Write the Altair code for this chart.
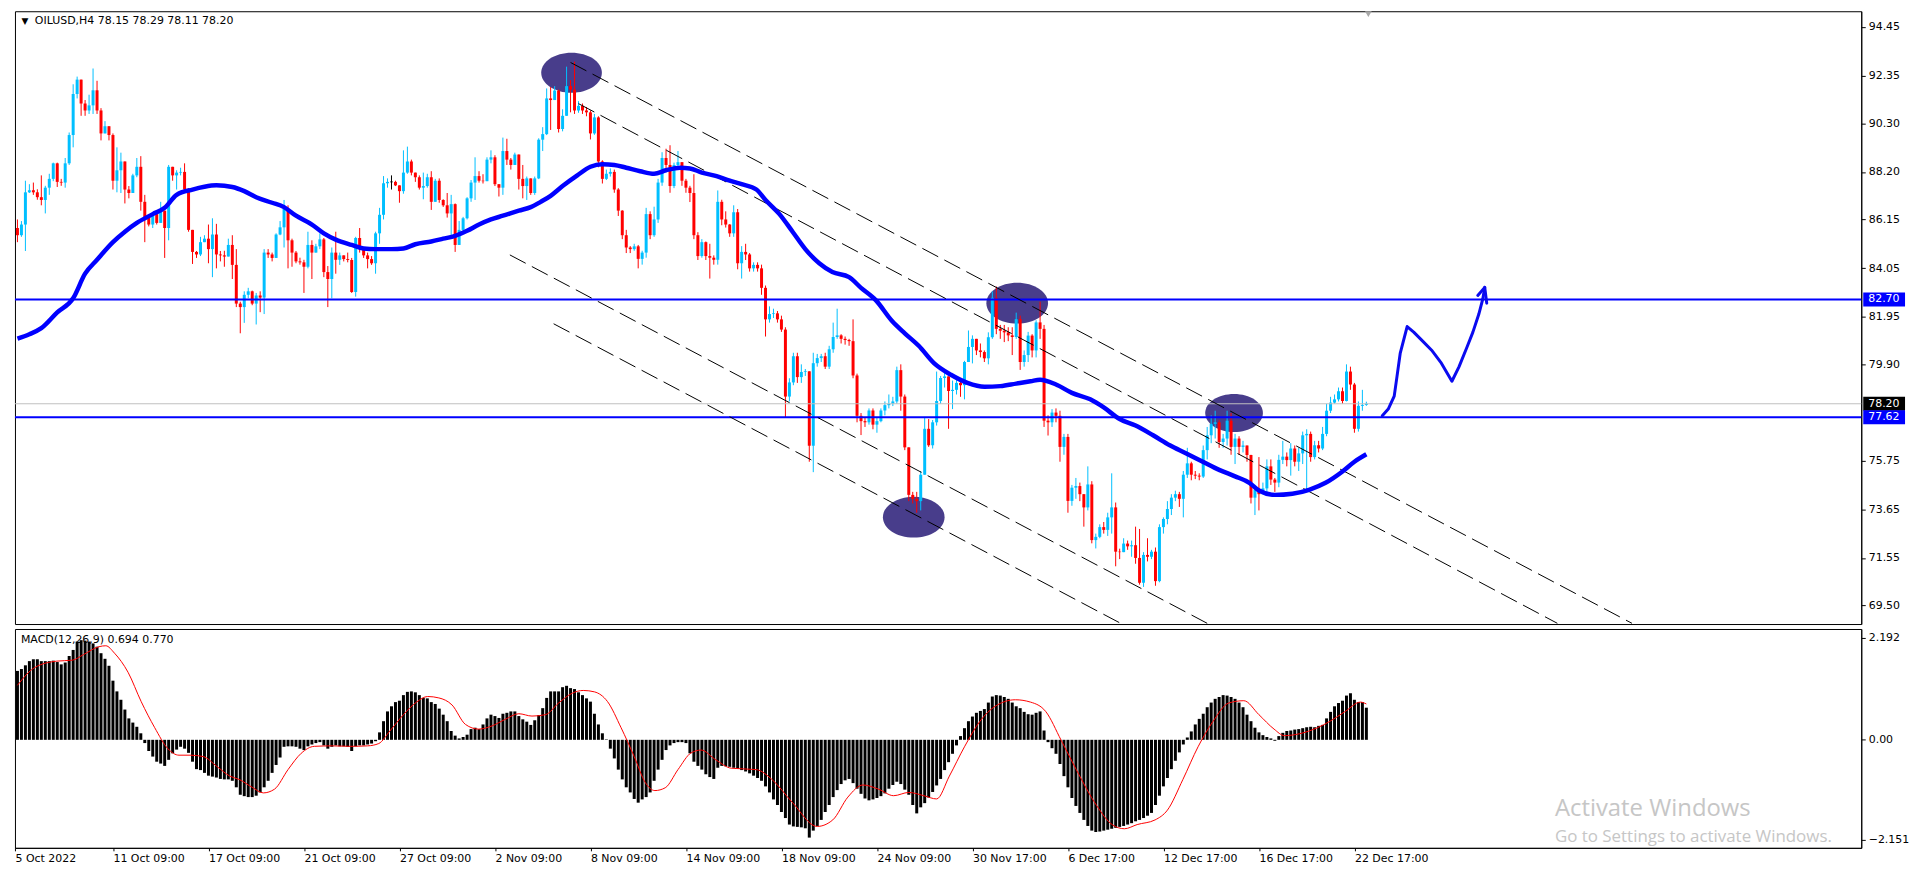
import altair as alt
import pandas as pd

# ---------------- data ----------------
first_open = 85.78
closes = [
85.47, 85.93, 87.32, 87.41, 87.32, 87.11, 86.99, 87.52, 87.90, 88.57,
87.77, 87.74, 88.57, 89.79, 91.56, 92.18, 91.15, 90.85, 91.07, 91.72,
90.85, 89.86, 90.17, 89.79, 87.82, 88.27, 88.65, 87.44, 87.29, 88.05,
88.42, 86.91, 86.23, 85.93, 86.38, 86.00, 86.53, 85.78, 88.42, 88.05,
88.17, 88.20, 87.44, 85.70, 84.75, 84.64, 85.17, 85.32, 84.87, 85.50,
84.64, 84.60, 84.55, 85.05, 84.19, 82.52, 82.37, 82.90, 83.05, 82.52,
82.87, 82.78, 84.72, 84.64, 84.49, 85.50, 85.81, 86.61, 85.25, 84.72,
84.34, 84.30, 84.11, 85.05, 84.72, 84.99, 85.29, 83.88, 83.58, 84.72,
84.41, 84.60, 84.44, 84.40, 83.02, 85.35, 84.87, 84.60, 84.44, 84.26,
85.55, 86.35, 87.71, 87.77, 87.77, 87.62, 87.37, 88.17, 88.65, 88.17,
87.97, 87.52, 87.59, 87.97, 86.91, 87.82, 86.99, 86.76, 86.41, 86.81,
85.05, 85.70, 86.20, 87.06, 87.74, 88.02, 87.82, 87.80, 88.73, 88.83,
87.67, 87.52, 89.10, 88.73, 88.50, 88.95, 87.90, 87.59, 87.92, 87.29,
87.92, 89.59, 89.83, 91.37, 91.30, 91.71, 90.05, 90.62, 91.90, 91.75,
90.85, 91.05, 90.85, 90.77, 89.86, 90.55, 88.65, 87.90, 88.12, 88.20,
87.44, 86.53, 85.47, 84.94, 84.87, 84.99, 84.45, 84.72, 86.38, 85.47,
86.15, 87.74, 88.80, 88.50, 87.59, 88.50, 88.62, 87.82, 87.52, 87.29,
85.47, 84.57, 85.17, 84.57, 84.50, 84.41, 86.91, 86.15, 85.93, 85.55,
86.46, 84.26, 84.75, 84.64, 84.04, 84.19, 84.04, 83.20, 81.84, 82.07,
82.10, 81.84, 81.40, 78.51, 79.12, 80.25, 79.35, 79.57, 79.60, 76.39,
79.95, 80.17, 80.25, 79.80, 80.55, 81.08, 81.15, 81.00, 80.95, 80.90,
79.42, 77.68, 77.45, 77.40, 77.91, 77.30, 77.45, 77.91, 78.14, 78.20,
78.30, 79.65, 78.51, 76.32, 74.27, 74.10, 74.00, 75.14, 77.12, 76.41,
77.40, 78.32, 79.31, 79.38, 78.75, 78.80, 79.10, 79.00, 80.00, 80.65,
81.00, 80.50, 80.43, 80.16, 81.07, 82.77, 81.43, 81.35, 81.28, 81.15,
81.08, 81.85, 80.00, 80.30, 81.14, 80.50, 81.71, 81.43, 77.47, 77.40,
77.82, 77.68, 76.34, 76.77, 74.01, 74.58, 74.65, 74.30, 73.73, 74.72,
72.32, 72.46, 72.88, 72.76, 73.30, 73.73, 71.82, 71.80, 72.17, 72.05,
72.10, 71.55, 70.48, 71.68, 71.60, 71.82, 70.55, 72.88, 73.23, 73.66,
74.15, 74.30, 74.10, 75.14, 75.63, 75.14, 75.10, 75.06, 76.20, 76.84,
77.33, 77.40, 76.55, 76.70, 77.47, 76.34, 76.70, 76.34, 76.40, 75.99,
74.15, 74.50, 74.30, 74.55, 75.50, 74.93, 74.80, 75.78, 75.92, 75.77,
76.27, 75.70, 76.06, 76.84, 76.90, 75.90, 76.41, 76.27, 76.90, 77.90,
78.25, 78.39, 78.74, 78.32, 79.59, 79.03, 77.12, 78.11, 78.15, 78.20,
]
highs = [
86.15, 86.08, 87.82, 87.67, 87.74, 87.45, 88.05, 87.60, 88.12, 88.60,
88.60, 87.90, 88.80, 89.90, 91.98, 92.31, 92.13, 91.30, 91.53, 92.66,
92.13, 90.95, 90.39, 90.13, 89.86, 89.26, 89.03, 88.65, 87.59, 88.12,
88.80, 88.88, 87.21, 86.23, 86.46, 86.46, 86.91, 86.46, 88.50, 88.35,
88.27, 88.38, 88.57, 87.50, 85.70, 84.79, 85.40, 85.47, 85.93, 86.20,
85.96, 84.79, 84.80, 85.32, 85.47, 84.87, 82.60, 83.05, 83.20, 83.08,
82.98, 83.05, 84.87, 84.87, 84.72, 85.55, 86.08, 86.99, 86.76, 85.32,
84.79, 84.50, 84.41, 85.62, 85.25, 85.10, 85.55, 85.35, 84.14, 84.94,
85.62, 84.72, 84.60, 84.72, 84.49, 85.40, 85.78, 84.94, 84.72, 84.57,
85.62, 86.65, 88.02, 87.92, 88.05, 87.82, 87.62, 89.13, 89.29, 88.73,
88.17, 88.05, 88.17, 88.12, 88.23, 87.90, 87.92, 87.02, 87.29, 87.21,
86.84, 86.08, 86.26, 87.11, 87.85, 88.83, 88.23, 88.10, 88.83, 89.13,
88.92, 87.67, 89.68, 89.63, 88.80, 89.03, 88.95, 88.50, 88.00, 87.92,
88.00, 89.65, 90.13, 91.80, 91.86, 91.90, 91.75, 90.90, 92.74, 92.16,
92.96, 91.25, 91.15, 91.00, 90.85, 90.70, 90.60, 88.70, 88.30, 88.35,
88.30, 87.50, 86.55, 85.70, 85.00, 85.10, 85.05, 84.80, 86.65, 86.50,
86.70, 87.90, 89.05, 89.20, 89.35, 88.60, 89.10, 88.60, 87.90, 87.60,
88.10, 85.60, 85.30, 85.20, 85.10, 84.60, 87.40, 87.00, 86.50, 85.95,
86.76, 86.60, 85.00, 85.10, 84.70, 84.30, 84.30, 84.20, 83.30, 82.40,
82.30, 82.20, 82.00, 81.50, 79.30, 80.40, 80.40, 79.90, 79.70, 79.60,
80.40, 80.35, 80.35, 80.40, 80.70, 81.70, 82.30, 81.20, 81.10, 81.00,
81.84, 79.50, 77.80, 77.60, 78.00, 78.00, 77.60, 78.00, 78.30, 78.60,
78.50, 79.80, 79.90, 78.60, 76.20, 74.40, 74.40, 75.30, 77.61, 77.54,
77.50, 79.59, 79.40, 79.60, 79.20, 79.20, 79.40, 79.30, 80.05, 81.36,
81.15, 81.00, 80.80, 80.50, 81.28, 83.05, 83.26, 81.60, 81.60, 81.50,
81.50, 82.13, 82.00, 80.50, 81.30, 81.20, 81.80, 82.60, 81.60, 77.70,
77.97, 78.00, 77.90, 76.90, 76.90, 74.70, 75.00, 74.80, 74.30, 75.50,
74.86, 72.60, 73.00, 73.10, 73.50, 75.20, 73.94, 71.95, 72.40, 72.30,
72.30, 72.90, 72.80, 71.80, 72.40, 71.90, 72.00, 73.00, 73.30, 74.00,
74.30, 74.45, 74.40, 75.30, 76.30, 75.70, 75.30, 75.20, 76.40, 77.20,
77.70, 77.90, 77.50, 76.90, 77.90, 77.80, 76.90, 76.80, 76.60, 76.40,
76.00, 74.70, 75.90, 74.80, 75.80, 75.80, 75.00, 76.00, 76.60, 76.10,
76.50, 76.40, 76.30, 77.00, 77.10, 77.00, 76.60, 76.60, 77.20, 78.20,
78.50, 78.60, 78.90, 78.90, 79.90, 79.80, 79.10, 78.30, 78.80, 78.29,
]
lows = [
85.17, 85.40, 84.79, 87.29, 87.21, 87.00, 86.76, 86.41, 87.21, 87.80,
87.55, 87.60, 87.52, 88.50, 89.26, 91.37, 90.62, 90.62, 90.70, 90.70,
90.70, 89.56, 89.86, 89.56, 87.44, 87.32, 87.29, 86.84, 87.06, 87.29,
87.97, 86.53, 85.17, 85.85, 85.78, 85.93, 86.00, 84.49, 85.25, 87.82,
87.44, 88.05, 87.32, 85.62, 84.23, 84.49, 84.57, 85.17, 84.26, 83.66,
84.04, 84.34, 84.11, 84.57, 83.58, 82.37, 81.24, 81.69, 82.75, 82.45,
81.62, 82.15, 82.07, 84.49, 84.34, 84.57, 85.47, 84.94, 84.04, 84.11,
84.26, 84.20, 82.98, 84.04, 83.58, 84.79, 84.87, 83.66, 82.37, 82.75,
83.81, 84.19, 84.34, 84.30, 82.98, 82.82, 84.72, 84.49, 84.04, 84.19,
83.81, 85.10, 86.15, 87.52, 87.44, 87.59, 86.87, 87.26, 88.12, 88.05,
87.77, 87.44, 87.02, 87.52, 86.56, 86.91, 86.87, 86.69, 86.23, 85.47,
84.75, 85.05, 85.62, 86.15, 86.91, 86.99, 87.74, 87.70, 88.02, 88.57,
87.59, 87.14, 87.21, 88.50, 88.30, 88.65, 87.44, 87.06, 86.99, 87.21,
87.21, 87.89, 89.10, 89.79, 90.01, 91.30, 89.90, 89.95, 90.62, 90.77,
90.70, 90.75, 90.70, 90.60, 89.60, 89.80, 88.40, 87.70, 87.85, 88.00,
87.30, 86.30, 85.30, 84.70, 84.70, 84.80, 84.04, 84.20, 84.50, 85.30,
85.40, 86.00, 87.60, 88.30, 87.30, 87.50, 88.40, 87.60, 87.30, 86.90,
85.30, 84.40, 84.50, 84.40, 83.60, 84.20, 84.20, 85.90, 85.80, 85.40,
85.40, 84.00, 83.60, 84.40, 83.90, 83.90, 83.90, 82.90, 81.10, 81.70,
81.90, 81.70, 81.30, 77.60, 78.30, 79.00, 79.10, 79.10, 79.40, 75.70,
75.25, 79.80, 80.00, 79.70, 79.70, 80.40, 81.00, 80.80, 80.75, 80.70,
79.30, 77.40, 76.85, 77.20, 77.30, 77.10, 76.95, 77.40, 77.70, 78.00,
78.10, 78.20, 77.90, 76.20, 74.00, 73.90, 73.50, 73.60, 75.14, 76.34,
76.27, 77.26, 78.20, 78.90, 77.12, 77.97, 78.60, 78.50, 78.39, 80.00,
79.94, 80.30, 80.20, 80.00, 79.90, 81.00, 81.20, 81.00, 80.86, 80.90,
80.30, 81.00, 79.66, 79.80, 80.00, 80.20, 80.20, 81.00, 77.20, 76.83,
77.20, 77.40, 75.70, 76.00, 73.50, 73.80, 74.10, 74.00, 72.90, 73.60,
72.18, 71.96, 72.40, 72.60, 72.50, 72.60, 71.19, 71.50, 71.80, 71.90,
71.60, 71.30, 70.40, 70.30, 71.40, 71.50, 70.35, 70.50, 72.60, 73.00,
73.40, 74.00, 73.75, 73.30, 75.00, 74.90, 74.95, 74.90, 75.00, 75.80,
76.50, 76.70, 76.30, 76.30, 76.40, 76.00, 75.60, 76.00, 76.10, 75.70,
73.90, 73.40, 73.60, 74.30, 74.30, 74.70, 74.40, 74.60, 75.60, 75.50,
75.10, 75.50, 75.30, 75.60, 74.50, 75.70, 75.80, 76.10, 76.20, 76.80,
77.80, 78.20, 78.30, 78.20, 78.30, 78.80, 76.95, 77.00, 77.90, 78.11,
]

# moving average
ma_i = [0, 3, 6, 10, 14, 17, 20, 24, 27, 30, 34, 37, 40, 44, 47, 50, 54, 57, 60, 64,
        67, 70, 74, 77, 80, 84, 87, 90, 94, 97, 100, 104, 107, 110, 113, 116, 119, 122, 126, 129,
        131.5, 134, 137, 140.7, 144, 147, 150, 153, 156.5, 160, 163, 166.5, 169, 172, 175.7, 179, 182, 185.7, 188, 191.5,
        194.8, 198, 201.5, 204.8, 209, 212, 215.7, 219.8, 223, 226.5, 230.4, 234.6, 238.75, 243, 247, 251, 254.6, 257, 261, 265,
        269.6, 273, 277, 281, 285.4, 289.6, 293.75, 297.9, 302, 306, 309.6, 312, 316, 320.4, 324.6, 328.75, 333, 336, 339]
ma_v = [81.01, 81.2, 81.46, 82.14, 82.75, 83.81, 84.41, 85.17, 85.62, 86.0, 86.38, 86.65, 87.21, 87.44, 87.56, 87.62, 87.55, 87.37, 87.11, 86.87,
        86.68, 86.31, 85.93, 85.55, 85.28, 85.05, 84.9, 84.87, 84.87, 84.9, 85.08, 85.2, 85.32, 85.44, 85.66, 85.93, 86.15, 86.31, 86.53, 86.68,
        86.91, 87.17, 87.59, 88.05, 88.42, 88.53, 88.5, 88.38, 88.23, 88.12, 88.27, 88.38, 88.35, 88.17, 88.02, 87.82, 87.67, 87.44, 86.99, 86.38,
        85.62, 84.87, 84.26, 83.88, 83.66, 83.2, 82.67, 81.77, 81.24, 80.7, 79.94, 79.45, 79.1, 78.93, 78.96, 79.07, 79.17, 79.24, 79.03, 78.67,
        78.39, 78.04, 77.54, 77.26, 76.84, 76.41, 76.06, 75.7, 75.35, 75.07, 74.79, 74.46, 74.27, 74.32, 74.49, 74.79, 75.28, 75.7, 76.02]

# MACD main (histogram) and signal line
macd = [
1.48, 1.52, 1.60, 1.69, 1.73, 1.73, 1.69, 1.69, 1.69, 1.70,
1.67, 1.62, 1.66, 1.80, 1.93, 2.11, 2.14, 2.13, 2.11, 2.07,
2.00, 1.86, 1.74, 1.59, 1.27, 1.04, 0.86, 0.65, 0.46, 0.37,
0.28, 0.14, -0.07, -0.24, -0.36, -0.47, -0.51, -0.56, -0.43, -0.29,
-0.21, -0.15, -0.19, -0.28, -0.47, -0.63, -0.65, -0.71, -0.77, -0.79,
-0.81, -0.84, -0.85, -0.85, -0.88, -1.02, -1.18, -1.21, -1.23, -1.23,
-1.20, -1.13, -1.02, -0.88, -0.71, -0.54, -0.38, -0.15, -0.14, -0.14,
-0.15, -0.19, -0.22, -0.14, -0.10, -0.07, -0.05, -0.12, -0.19, -0.15,
-0.12, -0.14, -0.14, -0.15, -0.24, -0.14, -0.12, -0.12, -0.10, -0.08,
-0.03, 0.16, 0.40, 0.61, 0.72, 0.81, 0.84, 0.96, 1.03, 1.04,
1.02, 0.96, 0.90, 0.89, 0.81, 0.77, 0.67, 0.54, 0.40, 0.19,
0.09, 0.03, 0.06, 0.11, 0.23, 0.26, 0.23, 0.33, 0.46, 0.54,
0.51, 0.47, 0.56, 0.58, 0.61, 0.61, 0.51, 0.44, 0.39, 0.32,
0.42, 0.53, 0.68, 0.90, 1.04, 1.04, 1.04, 1.13, 1.16, 1.11,
1.09, 1.02, 0.96, 0.89, 0.82, 0.56, 0.33, 0.14, 0.01, -0.19,
-0.40, -0.64, -0.85, -1.02, -1.13, -1.27, -1.35, -1.28, -1.23, -1.13,
-0.88, -0.64, -0.43, -0.22, -0.12, -0.07, -0.05, -0.05, -0.07, -0.29,
-0.47, -0.56, -0.64, -0.74, -0.80, -0.84, -0.60, -0.56, -0.57, -0.58,
-0.60, -0.62, -0.65, -0.68, -0.72, -0.77, -0.82, -0.88, -1.00, -1.13,
-1.28, -1.40, -1.55, -1.68, -1.82, -1.86, -1.87, -1.88, -1.90, -2.10,
-1.95, -1.85, -1.72, -1.55, -1.40, -1.23, -1.08, -0.95, -0.87, -0.84,
-0.93, -1.05, -1.16, -1.26, -1.30, -1.28, -1.25, -1.21, -1.15, -1.05,
-0.97, -0.90, -0.95, -1.07, -1.18, -1.40, -1.58, -1.45, -1.36, -1.24,
-1.12, -0.98, -0.84, -0.65, -0.48, -0.30, -0.12, 0.08, 0.25, 0.40,
0.50, 0.58, 0.62, 0.66, 0.80, 0.93, 0.96, 0.95, 0.92, 0.88,
0.80, 0.72, 0.68, 0.60, 0.55, 0.54, 0.58, 0.61, 0.20, -0.05,
-0.18, -0.30, -0.52, -0.78, -1.02, -1.25, -1.42, -1.57, -1.72, -1.85,
-1.95, -1.98, -1.97, -1.95, -1.93, -1.91, -1.89, -1.87, -1.85, -1.82,
-1.79, -1.75, -1.72, -1.68, -1.63, -1.57, -1.40, -1.20, -1.00, -0.82,
-0.63, -0.45, -0.27, -0.10, 0.05, 0.18, 0.33, 0.45, 0.56, 0.70,
0.80, 0.88, 0.92, 0.96, 0.95, 0.92, 0.88, 0.80, 0.70, 0.54,
0.40, 0.26, 0.16, 0.10, 0.06, 0.03, -0.02, 0.08, 0.15, 0.19,
0.20, 0.22, 0.23, 0.25, 0.27, 0.28, 0.27, 0.30, 0.32, 0.46,
0.60, 0.72, 0.79, 0.84, 0.95, 1.00, 0.86, 0.81, 0.81, 0.69,
]
sig_i = [0, 4.3, 9.9, 13.8, 16.6, 20.5, 22.2, 24.4, 27.8, 31.1, 34.5, 37.8, 40.6, 43.4, 46.7, 50.1, 53.4, 55.7, 59, 61.8,
         64.6, 68, 71.3, 74.6, 79.1, 83.6, 88, 90.8, 93.6, 97, 100.3, 103.1, 105.9, 109.2, 112.6, 115.9, 119.3, 122.6, 126, 129.3,
         132.7, 136, 139.4, 142.2, 145, 148.3, 151.7, 155, 157.8, 160.2, 162.8, 166, 169.3, 171.8, 175.5, 179.4, 185.7, 189.6, 194.7, 201,
         204.9, 208.7, 212.5, 216.4, 220.2, 224, 227.8, 231, 234.2, 238, 241.9, 245.7, 250.8, 254.6, 258.4, 262.3, 266.1, 271.2, 275.1, 278.2,
         281.4, 285.9, 289, 292.9, 296.7, 300.5, 304.4, 308.2, 312, 315.8, 318.4, 322.2, 326.7, 329.9, 333.7, 337.5, 339]
sig_v = [1.17, 1.55, 1.69, 1.71, 1.83, 2.0, 2.02, 1.86, 1.45, 0.82, 0.26, -0.19, -0.33, -0.33, -0.36, -0.57, -0.78, -0.85, -1.02, -1.14,
         -1.06, -0.64, -0.29, -0.14, -0.13, -0.14, -0.13, -0.08, 0.19, 0.54, 0.81, 0.93, 0.9, 0.75, 0.33, 0.23, 0.3, 0.44, 0.56, 0.51,
         0.54, 0.79, 1.0, 1.06, 1.03, 0.82, 0.26, -0.36, -0.92, -1.09, -1.03, -0.64, -0.28, -0.22, -0.43, -0.61, -0.64, -0.85, -1.34, -1.86,
         -1.72, -1.23, -0.97, -1.06, -1.2, -1.13, -1.2, -1.27, -0.78, -0.15, 0.4, 0.72, 0.86, 0.81, 0.61, -0.01, -0.64, -1.41, -1.82, -1.91,
         -1.82, -1.72, -1.51, -0.85, -0.15, 0.4, 0.79, 0.84, 0.54, 0.23, 0.09, 0.13, 0.26, 0.4, 0.61, 0.81, 0.77]

levels = [82.70, 77.62]
current_price = 78.20

# dashed channel lines: start / end (bar index, price)
chan_i0 = [139.0, 141.0, 123.75, 134.75]
chan_p0 = [92.92, 91.145, 84.62, 81.65]
chan_i1 = [405.75, 387.0, 299.0, 277.25]
chan_p1 = [68.73, 68.73, 68.73, 68.73]

# ellipse markers: centre (bar index, price) and width in px
ell_i = [139.25, 251.25, 225.25, 305.75]
ell_p = [92.48, 82.54, 73.31, 77.80]
ell_w = [61, 62, 62, 58]

# hand drawn arrow
arrow_i = [343.0, 344.5, 346.0, 346.7, 347.5, 349.25, 350.9, 353.4, 355.4, 357.85, 360.5, 362.3, 364.3, 365.75, 367.25, 368.25, 368.75]
arrow_p = [77.68, 77.97, 78.53, 79.38, 80.37, 81.53, 81.29, 80.86, 80.51, 79.95, 79.17, 79.80, 80.65, 81.28, 82.06, 82.71, 83.22]
head_i = [367.0, 368.75, 369.25]
head_p = [82.87, 83.22, 82.54]

xtick_vals = [-0.625, 24, 48, 72, 96, 120, 144, 168, 192, 216, 240, 264, 288, 312, 336]
xtick_labels = ["5 Oct 2022", "11 Oct 09:00", "17 Oct 09:00", "21 Oct 09:00", "27 Oct 09:00",
                "2 Nov 09:00", "8 Nov 09:00", "14 Nov 09:00", "18 Nov 09:00", "24 Nov 09:00",
                "30 Nov 17:00", "6 Dec 17:00", "12 Dec 17:00", "16 Dec 17:00", "22 Dec 17:00"]
price_ticks = [94.45, 92.35, 90.30, 88.20, 86.15, 84.05, 81.95, 79.90, 75.75, 73.65, 71.55, 69.50]
macd_ticks = [2.192, 0.0, -2.151]
box_prices = [82.70, 78.20, 77.62]
box_text = ["82.70", "78.20", "77.62"]
box_color = ["#0000FF", "#000000", "#0000FF"]

# ---------------- tables ----------------
opens = [first_open] + closes[:-1]
cdf = pd.DataFrame({
    "i": list(range(len(closes))),
    "o": opens, "c": closes,
    "h": [max(h, o, c) for h, o, c in zip(highs, opens, closes)],
    "l": [min(l, o, c) for l, o, c in zip(lows, opens, closes)],
})
cdf["dir"] = ["up" if c > o else ("down" if c < o else "flat") for o, c in zip(cdf.o, cdf.c)]

ma_df = pd.DataFrame({"i": ma_i, "v": ma_v})
macd_df = pd.DataFrame({"i": list(range(len(macd))), "v": macd})
sig_df = pd.DataFrame({"i": sig_i, "v": sig_v})
chan_df = pd.DataFrame({
    "cid": [0, 1, 2, 3] * 2,
    "i": chan_i0 + chan_i1,
    "p": chan_p0 + chan_p1,
})
ell_df = pd.DataFrame({"i": ell_i, "p": ell_p, "s": [w * w for w in ell_w]})
arrow_df = pd.DataFrame({
    "g": ["shaft"] * len(arrow_i) + ["head"] * len(head_i),
    "i": arrow_i + head_i,
    "p": arrow_p + head_p,
})
lvl_df = pd.DataFrame({"p": levels})
cur_df = pd.DataFrame({"p": [current_price]})
box_df = pd.DataFrame({"p": box_prices, "t": box_text, "col": box_color})

# ---------------- layout ----------------
W, H1, H2 = 1856, 616, 220
FONT = "DejaVu Sans"
xs = alt.Scale(domain=[-0.625, 463.375], nice=False, zero=False, padding=0)
ys = alt.Scale(domain=[68.70, 95.13], nice=False, zero=False, padding=0)
ms = alt.Scale(domain=[-2.32, 2.38], nice=False, zero=False, padding=0)

price_axis = alt.Axis(values=price_ticks, format=".2f", orient="right", tickSize=4, labelPadding=3,
                      labelFont=FONT, labelFontSize=11, labelColor="black", tickColor="black",
                      domainColor="black", grid=False, title=None, labelOverlap=False, labelFlush=False)

label_expr = "''"
for v, lab in reversed(list(zip(xtick_vals, xtick_labels))):
    label_expr = f"abs(datum.value - ({v})) < 0.01 ? '{lab}' : ({label_expr})"

x_axis = alt.Axis(values=xtick_vals, labelExpr=label_expr, labelAlign="left", labelBaseline="top",
                  tickSize=3, labelPadding=2, labelFont=FONT, labelFontSize=11, labelColor="black",
                  tickColor="black", domainColor="black", labelFlush=False, labelOverlap=False,
                  labelBound=False, grid=False, title=None)
macd_axis = alt.Axis(values=macd_ticks, orient="right",
                     labelExpr="datum.value == 0 ? '0.00' : format(datum.value, '.3f')",
                     tickSize=4, labelPadding=3, labelFont=FONT, labelFontSize=11, labelColor="black",
                     tickColor="black", domainColor="black", grid=False, title=None,
                     labelOverlap=False, labelFlush=False)

X = alt.X("i:Q", scale=xs, axis=None)


def PY(field):
    return alt.Y(field, scale=ys, axis=price_axis)


ell_path = ("M -1 0 C -1 -0.365 -0.552 -0.66 0 -0.66 C 0.552 -0.66 1 -0.365 1 0 "
            "C 1 0.365 0.552 0.66 0 0.66 C -0.552 0.66 -1 0.365 -1 0 Z")
box_path = "M -1 -0.333 L 1 -0.333 L 1 0.333 L -1 0.333 Z"

ellipses = alt.Chart(ell_df).mark_point(shape=ell_path, filled=True, opacity=1, strokeWidth=0,
                                        color="#483D8B").encode(
    x=X, y=PY("p:Q"), size=alt.Size("s:Q", scale=None, legend=None))

cscale = alt.Scale(domain=["up", "down", "flat"], range=["#00BFFF", "#FF0000", "#000000"])
wicks = alt.Chart(cdf).mark_rule(strokeWidth=1).encode(
    x=X, y=PY("l:Q"), y2="h:Q",
    color=alt.Color("dir:N", scale=cscale, legend=None))
bodies = alt.Chart(cdf).mark_bar(size=3).encode(
    x=X, y=PY("o:Q"), y2="c:Q",
    color=alt.Color("dir:N", scale=cscale, legend=None))
dojis = alt.Chart(cdf).transform_filter("datum.dir == 'flat'").mark_tick(
    orient="horizontal", size=3, thickness=1, color="black").encode(x=X, y=PY("c:Q"))

cur_line = alt.Chart(cur_df).mark_rule(color="#C0C0C0", strokeWidth=1).encode(y=PY("p:Q"))
lvl_lines = alt.Chart(lvl_df).mark_rule(color="#0000FF", strokeWidth=2).encode(y=PY("p:Q"))
channels = alt.Chart(chan_df).mark_line(color="black", strokeWidth=1, strokeDash=[18, 7], clip=True).encode(
    x=X, y=PY("p:Q"), detail="cid:N")
ma_line = alt.Chart(ma_df).mark_line(color="#0000FF", strokeWidth=4.5, interpolate="monotone").encode(
    x=X, y=PY("v:Q"))
arrow = alt.Chart(arrow_df).mark_line(color="#0A0AF0", strokeWidth=3, strokeJoin="round", strokeCap="round").encode(
    x=X, y=PY("p:Q"), detail="g:N")

header_df = pd.DataFrame({"t": ["OILUSD,H4  78.15 78.29 78.11 78.20"]})
header = alt.Chart(header_df).mark_text(align="left", baseline="middle", font=FONT, fontSize=11,
                                        color="black").encode(
    x=alt.value(20), y=alt.value(10), text="t:N")
tri_df = pd.DataFrame({"t": ["\u25BC"]})
tri = alt.Chart(tri_df).mark_text(align="center", baseline="middle", font=FONT, fontSize=9,
                                  color="black").encode(x=alt.value(10), y=alt.value(10), text="t:N")
shift_df = pd.DataFrame({"i": [339.5]})
shift_mark = alt.Chart(shift_df).mark_point(shape="triangle-down", size=45, filled=True, opacity=1,
                                            color="#A8A8A8", strokeWidth=0).encode(x=X, y=alt.value(3))

boxes = alt.Chart(box_df).mark_point(shape=box_path, size=42 * 42, filled=True, opacity=1,
                                     strokeWidth=0).encode(
    x=alt.value(W + 23), y=PY("p:Q"),
    color=alt.Color("col:N", scale=None, legend=None))
box_labels = alt.Chart(box_df).mark_text(align="left", baseline="middle", font=FONT, fontSize=11,
                                         color="white").encode(
    x=alt.value(W + 7), y=PY("p:Q"), text="t:N")

main = alt.layer(ellipses, wicks, bodies, dojis, cur_line, lvl_lines, channels, ma_line, arrow,
                 header, tri, shift_mark, boxes, box_labels).properties(width=W, height=H1)

# ---------------- MACD panel ----------------
MX = alt.X("i:Q", scale=xs, axis=x_axis)
MY = alt.Y("v:Q", scale=ms, axis=macd_axis)

hist = alt.Chart(macd_df).mark_bar(size=3, color="black").encode(x=MX, y=MY, y2=alt.datum(0))
sig_line = alt.Chart(sig_df).mark_line(color="#FF0000", strokeWidth=1, interpolate="monotone").encode(
    x=MX, y=MY)
macd_lab_df = pd.DataFrame({"t": ["MACD(12,26,9) 0.694 0.770"]})
macd_label = alt.Chart(macd_lab_df).mark_text(align="left", baseline="middle", font=FONT, fontSize=11,
                                              color="black").encode(
    x=alt.value(6), y=alt.value(11), text="t:N")
wm1_df = pd.DataFrame({"t": ["Activate Windows"]})
wm2_df = pd.DataFrame({"t": ["Go to Settings to activate Windows."]})
wm1 = alt.Chart(wm1_df).mark_text(align="left", baseline="middle", font="Open Sans", fontSize=24,
                                  color="#C6C6C6").encode(x=alt.value(1548), y=alt.value(181), text="t:N")
wm2 = alt.Chart(wm2_df).mark_text(align="left", baseline="middle", font="Open Sans", fontSize=17,
                                  color="#C6C6C6").encode(x=alt.value(1548), y=alt.value(209), text="t:N")

macd_chart = alt.layer(hist, sig_line, macd_label, wm1, wm2).properties(width=W, height=H2)

chart = alt.vconcat(main, macd_chart, spacing=3).properties(
    padding={"left": 0, "top": 0, "right": 2, "bottom": 0},
    background="white",
).configure_view(stroke="black", strokeWidth=1)

chart.save("out.html", embed_options={"renderer": "svg", "actions": False})
